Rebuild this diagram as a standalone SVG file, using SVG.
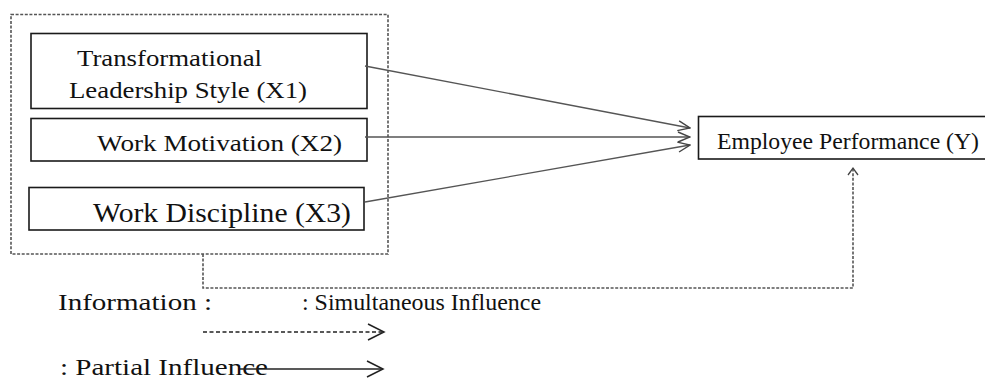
<svg xmlns="http://www.w3.org/2000/svg" width="985" height="380" viewBox="0 0 985 380">
<style>
  .box { fill: #fff; stroke: #1a1a1a; stroke-width: 1.6; }
  .txt { fill: #111; font-family: "Liberation Serif", "Times New Roman", "DejaVu Serif", serif; }
  .con { fill: none; stroke: #555; stroke-width: 1.3; }
  .dot { fill: none; stroke: #555; stroke-width: 1.6; stroke-dasharray: 3 1.6; }
</style>
<defs>
  <marker id="open" viewBox="0 0 14 12" refX="13" refY="6" markerWidth="14" markerHeight="12" markerUnits="userSpaceOnUse" orient="auto">
    <path d="M1,1 L13,6 L1,11" fill="none" stroke="#444" stroke-width="1.4"/>
  </marker>
  <marker id="openS" viewBox="0 0 16 12" refX="8" refY="6" markerWidth="16" markerHeight="12" markerUnits="userSpaceOnUse" orient="auto">
    <path d="M1,1 L8,6 L1,11" fill="none" stroke="#444" stroke-width="1.3"/>
  </marker>
  <marker id="legend" viewBox="0 0 20 20" refX="18" refY="10" markerWidth="20" markerHeight="20" markerUnits="userSpaceOnUse" orient="auto">
    <path d="M2,2 L18,10 L2,18" fill="none" stroke="#222" stroke-width="1.5"/>
  </marker>
</defs>

<g id="group-x">
  <rect x="11" y="14.5" width="377" height="239.5" fill="none" stroke="#555" stroke-width="1.6" stroke-dasharray="3 1.6"/>
</g>

<g id="x1">
  <rect class="box" x="31" y="33.5" width="336" height="75"/>
  <text class="txt" x="77" y="66" font-size="24" textLength="185" lengthAdjust="spacingAndGlyphs">Transformational</text>
  <text class="txt" x="69" y="98" font-size="24" textLength="238" lengthAdjust="spacingAndGlyphs">Leadership Style (X1)</text>
</g>

<g id="x2">
  <rect class="box" x="31" y="118.5" width="336" height="42.5"/>
  <text class="txt" x="97" y="151" font-size="24" textLength="245" lengthAdjust="spacingAndGlyphs">Work Motivation (X2)</text>
</g>

<g id="x3">
  <rect class="box" x="29" y="187.5" width="335" height="42.5"/>
  <text class="txt" x="93" y="222" font-size="28" textLength="258" lengthAdjust="spacingAndGlyphs">Work Discipline (X3)</text>
</g>

<g id="y">
  <rect class="box" x="698.5" y="116.5" width="295" height="42.5"/>
  <text class="txt" x="717" y="149" font-size="24" textLength="262" lengthAdjust="spacingAndGlyphs">Employee Performance (Y)</text>
</g>

<g id="connectors">
  <line class="con" x1="365" y1="66" x2="690" y2="128" marker-end="url(#open)"/>
  <line class="con" x1="365" y1="137" x2="690" y2="137" marker-end="url(#open)"/>
  <line class="con" x1="365" y1="202" x2="690" y2="145" marker-end="url(#open)"/>
  <polyline class="dot" points="203,254 203,288 853,288 853,168" marker-end="url(#openS)"/>
</g>

<g id="legend-group">
  <text class="txt" x="58" y="310" font-size="24" textLength="154" lengthAdjust="spacingAndGlyphs">Information :</text>
  <text class="txt" x="302" y="310" font-size="24" textLength="239" lengthAdjust="spacingAndGlyphs">: Simultaneous Influence</text>
  <line x1="203" y1="332" x2="384" y2="332" stroke="#222" stroke-width="1.4" stroke-dasharray="4 2.5" marker-end="url(#legend)"/>
  <text class="txt" x="60" y="375" font-size="24" textLength="208" lengthAdjust="spacingAndGlyphs">: Partial Influence</text>
  <line x1="240" y1="369" x2="383" y2="369" stroke="#222" stroke-width="1.4" marker-end="url(#legend)"/>
</g>
</svg>
